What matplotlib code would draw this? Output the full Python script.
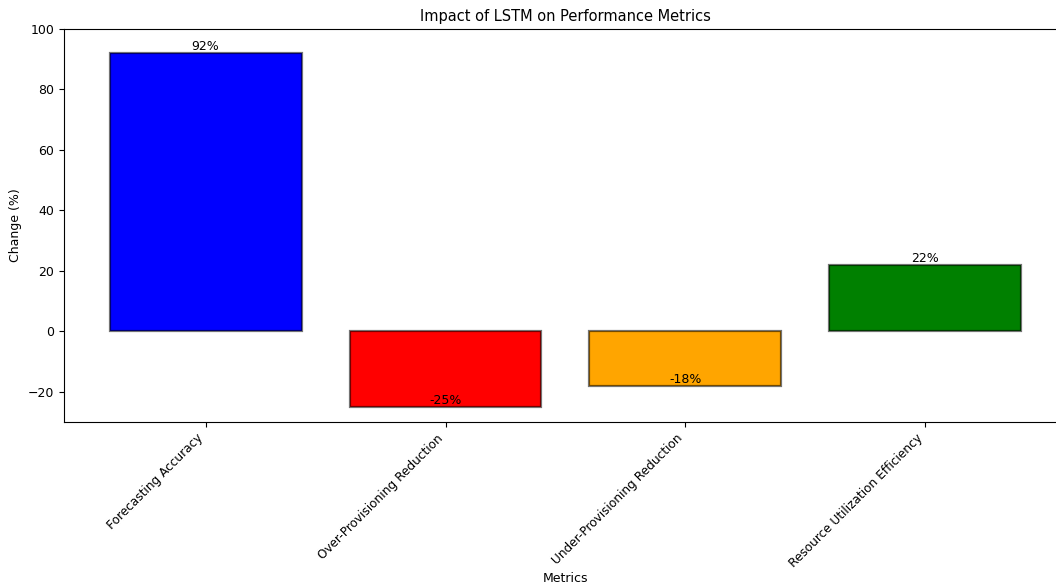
import matplotlib
matplotlib.use("Agg")
import matplotlib.pyplot as plt

metrics = ["Forecasting Accuracy", "Over-Provisioning Reduction",
           "Under-Provisioning Reduction", "Resource Utilization Efficiency"]
changes = [92, -25, -18, 22]
colors = ["blue", "red", "orange", "green"]

fig = plt.figure(figsize=(10.56, 5.85), dpi=100)
ax = fig.add_axes([0.0606, 0.2786, 0.9498, 0.6718])

bars = ax.bar(metrics, changes, color=colors, edgecolor=(0, 0, 0, 0.55), linewidth=1.6)
for bar, val in zip(bars, changes):
    ax.text(bar.get_x() + bar.get_width() / 2, val, f"{val}%",
            ha="center", va="bottom", fontsize=9)

ax.set_ylim(-30, 100)
ax.set_title("Impact of LSTM on Performance Metrics", fontsize=10.5)
ax.set_xlabel("Metrics", fontsize=9, labelpad=1)
ax.set_ylabel("Change (%)", fontsize=9)
ax.tick_params(axis="both", labelsize=9)
plt.setp(ax.get_xticklabels(), rotation=45, ha="right", fontsize=8.7)

fig.savefig("out.png", dpi=100)
